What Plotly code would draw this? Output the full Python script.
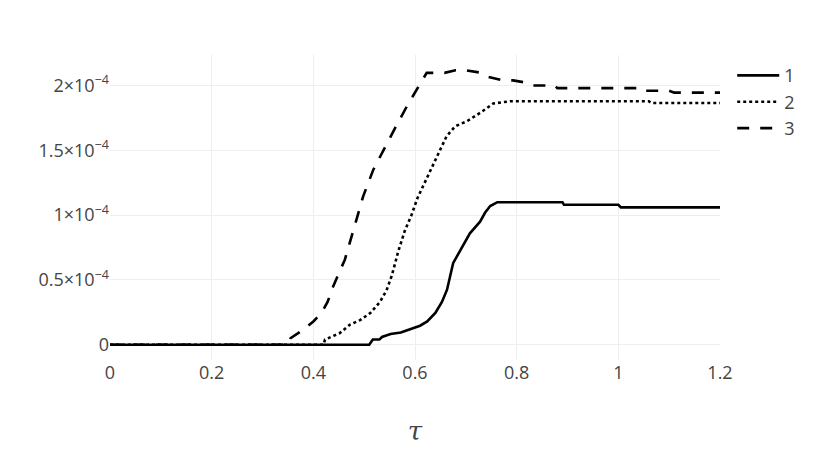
import numpy as np
import plotly.graph_objects as go

# значения, ординаты в единицах 1e-4
TAU_1 = [0, 0.51, 0.517, 0.53, 0.535, 0.552, 0.572, 0.59, 0.61, 0.624, 0.64, 0.653,
         0.663, 0.675, 0.689, 0.708, 0.728, 0.738, 0.748, 0.762, 0.89, 0.893, 1.0,
         1.005, 1.2]
Y_1 = [0, 0, 0.04, 0.04, 0.06, 0.083, 0.095, 0.12, 0.147, 0.18, 0.245, 0.33,
       0.425, 0.63, 0.73, 0.86, 0.95, 1.02, 1.07, 1.1, 1.1, 1.08, 1.08, 1.06, 1.06]

TAU_2 = [0, 0.42, 0.423, 0.452, 0.472, 0.492, 0.512, 0.531, 0.544, 0.554, 0.561,
         0.567, 0.58, 0.593, 0.605, 0.623, 0.643, 0.662, 0.679, 0.702, 0.728, 0.754,
         0.787, 1.06, 1.065, 1.2]
Y_2 = [0, 0, 0.04, 0.09, 0.155, 0.19, 0.245, 0.33, 0.42, 0.53, 0.63, 0.72, 0.88,
       1.0, 1.133, 1.287, 1.454, 1.608, 1.686, 1.724, 1.789, 1.861, 1.879, 1.879,
       1.865, 1.865]

TAU_3 = [0, 0.35, 0.355, 0.38, 0.4, 0.416, 0.428, 0.439, 0.45, 0.462, 0.48, 0.498,
         0.518, 0.538, 0.561, 0.584, 0.607, 0.623, 0.658, 0.68, 0.70, 0.731, 0.744,
         0.773, 0.793, 0.822, 0.832, 0.875, 0.88, 1.04, 1.045, 1.1, 1.11, 1.2]
Y_3 = [0, 0, 0.05, 0.116, 0.18, 0.245, 0.33, 0.45, 0.55, 0.656, 0.9, 1.145, 1.351,
       1.506, 1.673, 1.84, 1.995, 2.098, 2.098, 2.118, 2.118, 2.098, 2.067, 2.04,
       2.04, 2.02, 2.0, 2.0, 1.98, 1.98, 1.96, 1.96, 1.945, 1.945]

SERIES = [("1", TAU_1, Y_1, "solid"), ("2", TAU_2, Y_2, "3px,3px"),
          ("3", TAU_3, Y_3, "12px,11px")]

fig = go.Figure()
for name, tau, y, dash in SERIES:
    fig.add_trace(go.Scatter(
        x=tau, y=np.array(y) * 1e-4, mode="lines", name=name,
        line=dict(color="black", width=2.6, dash=dash),
    ))

# страница сдвинута на 8px отступом body, поэтому поля меньше на 8
fig.update_layout(
    template="none",
    width=830, height=471,
    margin=dict(l=102, r=118, t=47, b=119),
    paper_bgcolor="white", plot_bgcolor="white",
    font=dict(family="Open Sans", size=18, color="#444"),
    legend=dict(x=1.02, y=0.993, font=dict(size=18), itemwidth=42),
)
fig.update_xaxes(range=[0, 1.2], dtick=0.2, gridcolor="#eee", zeroline=False,
                 showline=False, ticks="",
                 title=dict(text="<i>τ</i>", font=dict(size=26, family="DejaVu Serif"), standoff=38))
fig.update_yaxes(exponentformat="power", dtick=0.5e-4, gridcolor="#eee", zeroline=False,
                 showline=False, ticks="")

fig.write_html("out.html")
